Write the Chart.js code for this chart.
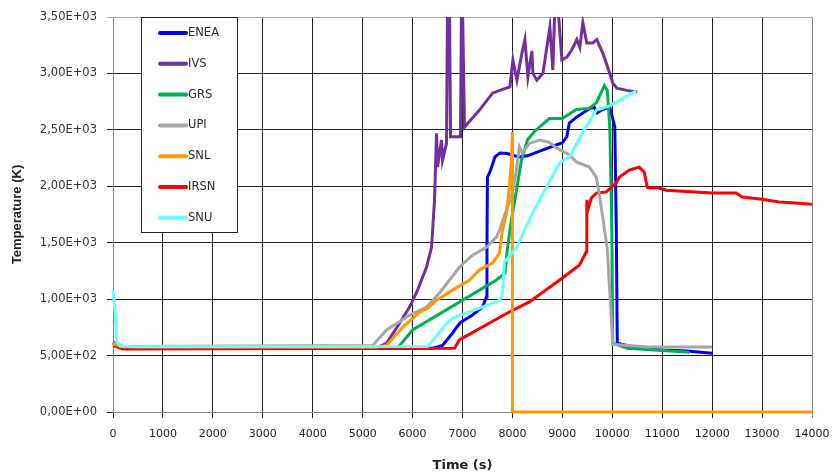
<!DOCTYPE html>
<html>
<head>
<meta charset="utf-8">
<script src="https://cdn.jsdelivr.net/npm/chart.js@4.4.1/dist/chart.umd.min.js"></script>
<style>
  body { margin: 0; background: #fff; }
  #wrap { width: 835px; height: 476px; }
</style>
</head>
<body>
<div id="wrap"><canvas id="myChart" width="835" height="476"></canvas></div>
<script>
// series names, colours, and [time (s), temperature (K)] points
const seriesNames = ['ENEA', 'IVS', 'GRS', 'UPI', 'SNL', 'IRSN', 'SNU']
const seriesColors = ['#0000ff', '#7030a0', '#00b050', '#a6a6a6', '#ff9900', '#ff0000', '#66ffff']

const enea = [[0,610],[150,580],[400,568],[6400,565],[6600,590],[6800,700],[6950,790],[7200,860],[7400,930],[7480,1020],
  [7490,1500],[7500,2080],[7560,2140],[7650,2260],[7750,2295],[7900,2290],[8000,2275],[8140,2260],[8300,2270],[8600,2320],
  [8900,2370],[9000,2385],[9090,2440],[9140,2560],[9290,2615],[9410,2650],[9550,2690],[9640,2700],[9700,2650],[9800,2680],
  [9950,2700],[10000,2615],[10050,2525],[10080,1640],[10100,610],[10500,570],[11000,550],[11500,540],[12000,520]]

const ivs = [[0,620],[200,578],[5300,570],[5480,610],[5700,760],[5940,930],[6100,1080],[6280,1285],[6380,1460],[6440,1880],
  [6480,2470],[6500,2170],[6580,2410],[6600,2230],[6680,2380],[6700,3600],[6740,3600],[6760,2440],[6820,2440],[6960,2440],
  [6980,3600],[7000,3600],[7040,2525],[7340,2675],[7600,2825],[7750,2850],[7950,2880],[8010,3120],[8090,2940],[8190,3180],
  [8250,3300],[8310,2970],[8390,3200],[8410,3000],[8490,2940],[8550,2970],[8610,3000],[8750,3410],[8810,3030],[8850,3600],
  [8910,3600],[8990,3120],[9090,3145],[9190,3210],[9290,3300],[9350,3230],[9410,3450],[9490,3270],[9610,3270],[9690,3300],
  [9810,3180],[9950,3000],[10010,2915],[10090,2870],[10290,2850],[10500,2835]]

const grs = [[0,615],[200,578],[5700,570],[5800,620],[6000,727],[7680,1170],[7850,1230],[7900,1450],[7980,1700],[8090,1990],
  [8180,2230],[8300,2410],[8450,2490],[8740,2600],[9000,2600],[9280,2680],[9540,2690],[9680,2740],[9840,2890],[9900,2850],
  [9950,2525],[9990,1640],[10010,610],[10300,565],[11000,545],[11540,530]]

const upi = [[0,610],[200,580],[5200,590],[5480,727],[5940,860],[6280,930],[6540,1055],[6940,1285],[7200,1390],[7480,1460],
  [7680,1550],[7740,1610],[8000,1940],[8080,2144],[8140,2350],[8200,2295],[8340,2380],[8540,2410],[8740,2390],[8880,2340],
  [9140,2280],[9280,2215],[9540,2170],[9680,2080],[9750,1900],[9900,1450],[10010,600],[10700,575],[12000,575]]

const snl = [[0,605],[200,578],[5300,575],[5480,590],[5800,750],[6140,885],[6300,920],[6480,990],[6800,1080],[7140,1170],
  [7340,1260],[7600,1320],[7740,1410],[7800,1610],[7880,1760],[7940,1990],[7980,2230],[8000,2480],[8000,0],[14000,0]]

const irsn = [[0,590],[200,558],[6840,565],[6940,640],[7000,655],[7900,877],[8340,975],[9000,1187],[9340,1300],[9480,1420],
  [9490,1880],[9510,1790],[9580,1895],[9680,1940],[9880,1950],[10080,2030],[10140,2080],[10340,2144],[10540,2170],[10640,2125],
  [10700,1990],[10740,1985],[10940,1985],[11080,1965],[12000,1940],[12480,1940],[12600,1905],[13000,1885],[13340,1860],
  [13740,1850],[14000,1840]]

const snu = [[0,1080],[40,900],[80,620],[150,585],[400,578],[6300,580],[6340,593],[6600,745],[6800,833],[7340,920],[7740,990],
  [7800,1055],[7840,1330],[8090,1460],[8150,1525],[8400,1760],[8680,1990],[8940,2205],[9140,2260],[9400,2470],[9680,2675],
  [9940,2710],[10480,2845]]

const seriesData = [enea, ivs, grs, upi, snl, irsn, snu]
// drawing order (lower = on top)
const seriesOrder = [5, 6, 4, 2, 1, 3, 0]

const xTicksMax = 14000
const yTicksMax = 3500

function sciLabel(v){
  // 3500 -> 3,50E+03
  let s = Number(v).toExponential(2)
  let parts = s.split('e')
  let exp = parseInt(parts[1], 10)
  let sign = exp < 0 ? '-' : '+'
  let e = Math.abs(exp).toString().padStart(2, '0')
  return parts[0].replace('.', ',') + 'E' + sign + e
}

// boxed legend drawn inside the plot, top-left
const boxLegend = {
  id: 'boxLegend',
  afterDatasetsDraw(chart){
    const ctx = chart.ctx
    const area = chart.chartArea
    const left = area.left + 28
    const top = area.top
    const w = 96, h = 215
    ctx.save()
    ctx.fillStyle = '#fff'
    ctx.fillRect(left, top, w, h)
    ctx.strokeStyle = '#222'
    ctx.lineWidth = 1
    ctx.strokeRect(left + 0.5, top + 0.5, w, h)
    ctx.font = '11.5px "DejaVu Sans"'
    ctx.textBaseline = 'middle'
    ctx.lineCap = 'round'
    for (let i = 0; i < seriesNames.length; i++){
      const y = top + 16 + i * 30.8
      ctx.strokeStyle = seriesColors[i]
      ctx.lineWidth = 4
      ctx.beginPath()
      ctx.moveTo(left + 19, y)
      ctx.lineTo(left + 45, y)
      ctx.stroke()
      ctx.fillStyle = '#2a2a2a'
      ctx.fillText(seriesNames[i], left + 47, y)
    }
    ctx.restore()
  }
}

const datasets = []
for (let i = 0; i < seriesNames.length; i++){
  datasets.push({
    label: seriesNames[i],
    data: seriesData[i].map(p => ({x: p[0], y: p[1]})),
    borderColor: seriesColors[i],
    backgroundColor: seriesColors[i],
    borderWidth: 3,
    showLine: true,
    pointRadius: 0,
    tension: 0,
    order: seriesOrder[i],
    clip: {left: 5, top: 0, right: 5, bottom: 5}
  })
}

const ctx = document.getElementById('myChart')
new Chart(ctx, {
  type: 'scatter',
  data: { datasets: datasets },
  options: {
    responsive: false,
    animation: false,
    devicePixelRatio: 1,
    layout: { padding: { top: 17, right: 23, left: 0, bottom: 0 } },
    plugins: { legend: { display: false }, tooltip: { enabled: false } },
    scales: {
      x: {
        type: 'linear',
        min: 0,
        max: xTicksMax,
        afterFit: function(scale){
          scale.height = 64
          scale.paddingLeft = 0
          scale.paddingRight = 0
        },
        ticks: { stepSize: 1000, color: '#222', padding: 10, maxRotation: 0,
                 font: { family: 'DejaVu Sans', size: 11 },
                 callback: v => String(v) },
        grid: {
          display: true,
          drawOnChartArea: true,
          color: c => c.index === 14 ? '#888' : '#222',
          lineWidth: 1,
          tickLength: 6
        },
        border: { color: '#888', width: 1 },
        title: { display: true, text: 'Time (s)', color: '#222',
                 font: { family: 'DejaVu Sans', size: 13, weight: 'bold' },
                 padding: { top: 0, bottom: 3 } }
      },
      y: {
        type: 'linear',
        min: 0,
        max: yTicksMax,
        afterFit: function(scale){
          scale.width = 113
          scale.paddingTop = 0
          scale.paddingBottom = 0
        },
        ticks: { stepSize: 500, color: '#333', padding: 10,
                 font: { family: 'DejaVu Sans', size: 11.5 },
                 callback: v => sciLabel(v) },
        grid: {
          display: true,
          drawOnChartArea: true,
          color: c => c.index === 7 ? '#aaa' : '#222',
          lineWidth: 1,
          tickLength: 6
        },
        border: { color: '#888', width: 1 },
        title: { display: true, text: 'Temperature (K)', color: '#222',
                 font: { family: 'Liberation Sans', size: 13, weight: 'bold' },
                 padding: { top: 10, bottom: 0 } }
      }
    }
  },
  plugins: [boxLegend]
})
</script>
</body>
</html>
